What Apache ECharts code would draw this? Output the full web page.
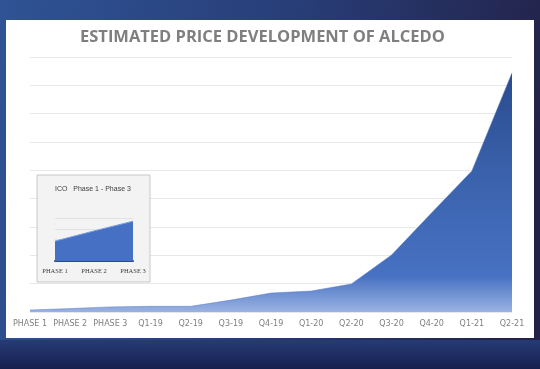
<!DOCTYPE html>
<html><head><meta charset="utf-8">
<script src="https://cdn.jsdelivr.net/npm/echarts@6/dist/echarts.min.js"></script>
<style>html,body{margin:0;padding:0;background:#1f2a5a}#c{width:540px;height:369px}</style>
</head><body><div id="c"></div>
<script>
const categories = ["PHASE 1","PHASE 2","PHASE 3","Q1-19","Q2-19","Q3-19","Q4-19","Q1-20","Q2-20","Q3-20","Q4-20","Q1-21","Q2-21"];
const priceValues = [0.07,0.12,0.18,0.2,0.2,0.42,0.67,0.74,0.99,2.01,3.5,4.98,8.44];
const icoCategories = ["PHASE 1","PHASE 2","PHASE 3"];
const icoValues = [1.85,2.8,3.7];
const titleText = "ESTIMATED PRICE DEVELOPMENT OF ALCEDO";
const insetTitle = "ICO   Phase 1 - Phase 3";

const chart = echarts.init(document.getElementById('c'), null, {renderer:'canvas'});
chart.setOption({
  backgroundColor: new echarts.graphic.LinearGradient(0,0,1,0.3,[
    {offset:0,color:'#2f5394'},{offset:0.5,color:'#283f7a'},{offset:1,color:'#23234a'}]),
  animation:false,
  graphic:[
    {type:'rect',shape:{x:0,y:340,width:540,height:29},style:{fill:new echarts.graphic.LinearGradient(0,0,0,1,[{offset:0,color:'#263b76'},{offset:1,color:'#16204e'}])},z:-1},
    {type:'rect',shape:{x:6,y:20,width:528,height:318},style:{fill:'#ffffff'},z:-1},
    {type:'rect',shape:{x:37,y:175,width:113,height:107},style:{fill:'#f3f3f3',stroke:'#c8c8c8',lineWidth:1},z:1},
    {type:'text',left:55,top:186,style:{text:insetTitle,fill:'#404040',font:'7px "Liberation Sans"'},z:5}
  ],
  title:{text:titleText,left:75,top:24,textStyle:{color:'#7f7f7f',fontSize:16.5,fontWeight:'bold',fontFamily:'Open Sans'}},
  grid:[
    {left:30,right:28,top:57,bottom:57},
    {left:55,right:407,top:218,bottom:108,z:4}
  ],
  xAxis:[
    {type:'category',data:categories,boundaryGap:false,gridIndex:0,
     axisLine:{show:false},axisTick:{show:false},
     axisLabel:{color:'#808080',fontSize:8,fontFamily:'DejaVu Sans',margin:8,interval:0}},
    {type:'category',data:icoCategories,boundaryGap:false,gridIndex:1,z:4,
     axisLine:{show:true,lineStyle:{color:'#2a4a8c',width:2}},axisTick:{show:false},
     axisLabel:{color:'#404040',fontSize:6.5,fontFamily:'Liberation Serif',margin:7,interval:0}}
  ],
  yAxis:[
    {type:'value',min:0,max:9,interval:1,gridIndex:0,axisLabel:{show:false},axisLine:{show:false},axisTick:{show:false},
     splitLine:{lineStyle:{color:'#e8e8e8',width:1}}},
    {type:'value',min:0,max:4,interval:1,gridIndex:1,z:4,axisLabel:{show:false},axisLine:{show:false},axisTick:{show:false},
     splitLine:{lineStyle:{color:'#e2e2e2',width:1}}}
  ],
  series:[
    {type:'line',data:priceValues,xAxisIndex:0,yAxisIndex:0,symbol:'none',lineStyle:{width:0.5,color:'#5a7fc8'},
     areaStyle:{opacity:1,color:new echarts.graphic.LinearGradient(0,0,0,1,[
       {offset:0,color:'#2b4b8e'},{offset:0.45,color:'#3b63ad'},{offset:0.85,color:'#4771c2'},{offset:1,color:'#9ab2e2'}])}},
    {type:'line',data:icoValues,xAxisIndex:1,yAxisIndex:1,symbol:'none',z:6,lineStyle:{width:1,color:'#7d9ee0'},
     areaStyle:{opacity:1,color:'#4670c4'}}
  ]
});
</script></body></html>
